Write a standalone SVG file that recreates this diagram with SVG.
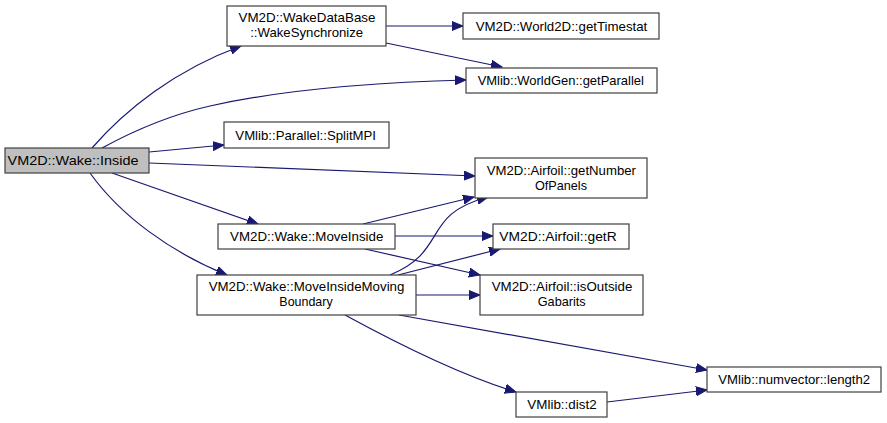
<svg xmlns="http://www.w3.org/2000/svg" width="887" height="423" viewBox="0 0 887 423">
<style>
.n rect{fill:#ffffff;stroke:#404040;stroke-width:1.2}
.n.cur rect{fill:#bfbfbf}
.n text{font-family:"Liberation Sans",Arial,sans-serif;font-size:13.3px;fill:#000000;text-anchor:middle}
.e path{fill:none;stroke:#191970;stroke-width:1.2;marker-end:url(#ah)}
</style>
<defs>
<marker id="ah" markerUnits="userSpaceOnUse" markerWidth="12" markerHeight="10" viewBox="0 0 12 10" refX="11" refY="5" orient="auto">
<path d="M0,0.5 L11,5 L0,9.5 Z" fill="#191970" stroke="#191970"/>
</marker>
</defs>
<g id="edges" class="e">
<path d="M92,148 C125,110 175,70 241,46"/>
<path d="M102,148 C135,130 170,115 210,106 C290,88 390,82 466,80"/>
<path d="M149,152 L224,145"/>
<path d="M149,163 L475,176"/>
<path d="M112,173 L258,224"/>
<path d="M90,173 C120,215 170,252 227,275"/>
<path d="M386,26 L463,26"/>
<path d="M386,43 L502,67"/>
<path d="M363,224 L474,197"/>
<path d="M395,236 L493,236"/>
<path d="M365,249 L480,275"/>
<path d="M390,275 C450,250 420,215 488,197"/>
<path d="M398,275 L500,249"/>
<path d="M416,295 L480,295"/>
<path d="M399,315 L707,370"/>
<path d="M345,315 C400,345 460,375 516,392"/>
<path d="M607,402 L707,390"/>
</g>
<g id="n_inside" class="n cur"><rect x="5" y="148" width="144" height="25"/><text x="73" y="165" textLength="131" lengthAdjust="spacingAndGlyphs">VM2D::Wake::Inside</text></g>
<g id="n_wakesync" class="n"><rect x="227" y="6" width="159" height="40"/><text x="307" y="22" textLength="137" lengthAdjust="spacingAndGlyphs">VM2D::WakeDataBase</text><text x="306.7" y="37" textLength="113" lengthAdjust="spacingAndGlyphs">::WakeSynchronize</text></g>
<g id="n_splitmpi" class="n"><rect x="224" y="122" width="165" height="26"/><text x="305.7" y="140" textLength="140.7" lengthAdjust="spacingAndGlyphs">VMlib::Parallel::SplitMPI</text></g>
<g id="n_timestat" class="n"><rect x="463" y="13" width="196" height="26"/><text x="561.5" y="31" textLength="171.6" lengthAdjust="spacingAndGlyphs">VM2D::World2D::getTimestat</text></g>
<g id="n_parallel" class="n"><rect x="466" y="68" width="191" height="25"/><text x="560.8" y="85" textLength="166.3" lengthAdjust="spacingAndGlyphs">VMlib::WorldGen::getParallel</text></g>
<g id="n_nop" class="n"><rect x="475" y="158" width="172" height="40"/><text x="561.3" y="175" textLength="149.3" lengthAdjust="spacingAndGlyphs">VM2D::Airfoil::getNumber</text><text x="561" y="190" textLength="52" lengthAdjust="spacingAndGlyphs">OfPanels</text></g>
<g id="n_moveinside" class="n"><rect x="218" y="224" width="177" height="25"/><text x="306.7" y="241" textLength="153.3" lengthAdjust="spacingAndGlyphs">VM2D::Wake::MoveInside</text></g>
<g id="n_mmb" class="n"><rect x="197" y="275" width="219" height="40"/><text x="306.5" y="291" textLength="195.7" lengthAdjust="spacingAndGlyphs">VM2D::Wake::MoveInsideMoving</text><text x="306" y="306" textLength="53.3" lengthAdjust="spacingAndGlyphs">Boundary</text></g>
<g id="n_getr" class="n"><rect x="493" y="224" width="136" height="25"/><text x="558" y="241" textLength="117.3" lengthAdjust="spacingAndGlyphs">VM2D::Airfoil::getR</text></g>
<g id="n_isout" class="n"><rect x="480" y="275" width="163" height="40"/><text x="562" y="291" textLength="140.7" lengthAdjust="spacingAndGlyphs">VM2D::Airfoil::isOutside</text><text x="561.7" y="306" textLength="48" lengthAdjust="spacingAndGlyphs">Gabarits</text></g>
<g id="n_length2" class="n"><rect x="707" y="367" width="174" height="25"/><text x="794.2" y="384" textLength="151.7" lengthAdjust="spacingAndGlyphs">VMlib::numvector::length2</text></g>
<g id="n_dist2" class="n"><rect x="516" y="392" width="91" height="25"/><text x="562" y="409" textLength="69.3" lengthAdjust="spacingAndGlyphs">VMlib::dist2</text></g>
</svg>
